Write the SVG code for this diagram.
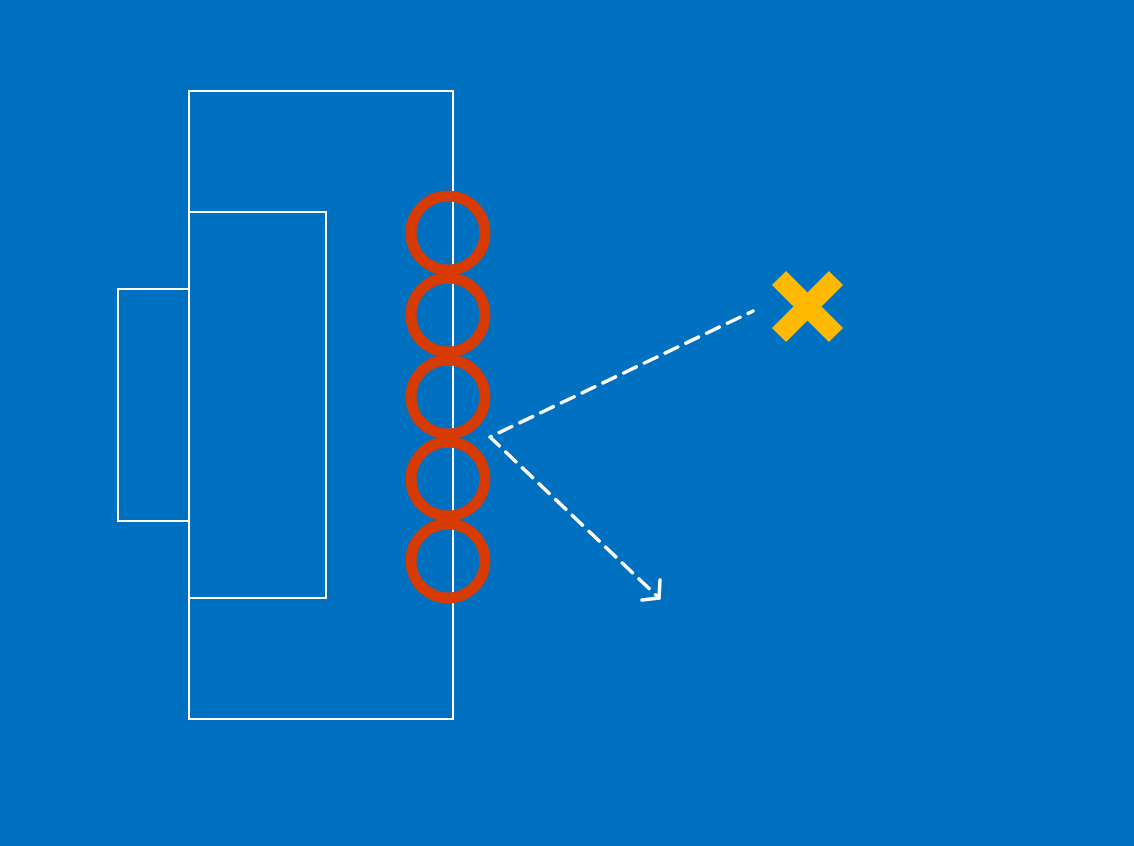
<svg xmlns="http://www.w3.org/2000/svg" width="1134" height="846" viewBox="0 0 1134 846">
<defs>
<style>
.box{fill:none;stroke:#fff;stroke-width:2}
.coil{fill:none;stroke:#D83B01;stroke-width:11}
.ray{fill:none;stroke:#fff;stroke-width:3.5;stroke-linecap:round;stroke-linejoin:round}
</style>
</defs>
<rect width="1134" height="846" fill="#0070C0"/>
<g id="housing">
<rect class="box" x="189" y="91" width="264" height="628"/>
</g>
<g id="core">
<rect class="box" x="189" y="212" width="137" height="386"/>
</g>
<g id="plate">
<rect class="box" x="118" y="289" width="71" height="232"/>
</g>
<g id="coil">
<circle class="coil" cx="448" cy="233" r="37"/>
<circle class="coil" cx="448" cy="315" r="37"/>
<circle class="coil" cx="448" cy="397" r="37"/>
<circle class="coil" cx="448" cy="479" r="37"/>
<circle class="coil" cx="448" cy="561" r="37"/>
</g>
<g id="target">
<path d="M779 278 L836 335 M836 278 L779 335" stroke="#FFB900" stroke-width="20" fill="none"/>
</g>
<g id="connectors">
<polyline class="ray" points="753,311 490,437 659,598" stroke-dasharray="14,9" stroke-dashoffset="8.6"/>
<polyline class="ray" points="660,580 659,598 642,600"/>
</g>
</svg>
